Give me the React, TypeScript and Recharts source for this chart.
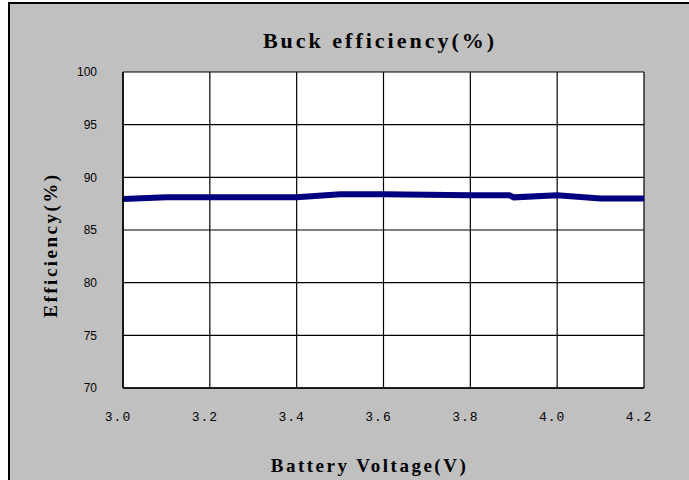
import React from "react";
import {
  LineChart,
  Line,
  XAxis,
  YAxis,
  CartesianGrid,
  Label,
} from "recharts";

// battery voltage (V) and measured buck efficiency (%)
const voltages: number[] = [3.0, 3.1, 3.2, 3.3, 3.4, 3.5, 3.6, 3.7, 3.8, 3.89, 3.9, 4.0, 4.1, 4.2];
const efficiency: number[] = [87.95, 88.1, 88.1, 88.1, 88.1, 88.4, 88.4, 88.35, 88.3, 88.3, 88.1, 88.3, 88.0, 88.0];

const xTicks: number[] = [3.0, 3.2, 3.4, 3.6, 3.8, 4.0, 4.2];
const yTicks: number[] = [70, 75, 80, 85, 90, 95, 100];

const data = voltages.map((v, i) => ({ v, eff: efficiency[i] }));

const titleFont = '"Liberation Serif", serif';

const App: React.FC = () => {
  return (
    <div style={{ position: "absolute", left: 0, top: 0, width: 689, height: 480, background: "#fff", overflow: "hidden" }}>
      <div
        style={{
          position: "absolute",
          left: 8,
          top: 2,
          width: 700,
          height: 500,
          border: "2px solid #000",
          background: "#c0c0c0",
        }}
      />
      <div
        style={{
          position: "absolute",
          left: 0,
          top: 0,
          width: 689,
          height: 480,
        }}
      >
        <div
          style={{
            position: "absolute",
            left: 180,
            width: 400,
            top: 28,
            textAlign: "center",
            fontFamily: titleFont,
            fontWeight: "bold",
            fontSize: 22,
            letterSpacing: 3,
            color: "#000",
          }}
        >
          Buck efficiency(%)
        </div>
        <LineChart
          width={689}
          height={480}
          data={data}
          margin={{ top: 72, right: 45, bottom: 0, left: 20 }}
        >
          <CartesianGrid stroke="#000" strokeWidth={1.2} fill="#fff" fillOpacity={1} />
          <XAxis
            dataKey="v"
            type="number"
            domain={[3.0, 4.2]}
            ticks={xTicks}
            tickFormatter={(t: number) => t.toFixed(1)}
            height={92}
            tickSize={0}
            tickMargin={24}
            axisLine={{ stroke: "#000", strokeWidth: 1.5 }}
            tick={{ fill: "#000", fontSize: 13, fontFamily: '"Liberation Mono", monospace', letterSpacing: 1, dx: -5 }}
          >
            <Label
              value="Battery Voltage(V)"
              position="insideBottom"
              offset={8}
              dx={-14}
              style={{ fill: "#000", fontFamily: titleFont, fontWeight: "bold", fontSize: 19, letterSpacing: 2.5 }}
            />
          </XAxis>
          <YAxis
            type="number"
            domain={[70, 100]}
            ticks={yTicks}
            width={103}
            tickSize={0}
            tickMargin={26}
            axisLine={{ stroke: "#000", strokeWidth: 1.5 }}
            tick={{ fill: "#000", fontSize: 12, fontFamily: '"Liberation Sans", sans-serif' }}
          >
            <Label
              value="Efficiency(%)"
              angle={-90}
              position="insideLeft"
              offset={30}
              dy={15}
              style={{ textAnchor: "middle", fill: "#000", fontFamily: titleFont, fontWeight: "bold", fontSize: 19, letterSpacing: 2.5 }}
            />
          </YAxis>
          <Line
            type="linear"
            dataKey="eff"
            stroke="#000080"
            strokeWidth={6}
            dot={false}
            isAnimationActive={false}
          />
        </LineChart>
      </div>
    </div>
  );
};

export default App;
